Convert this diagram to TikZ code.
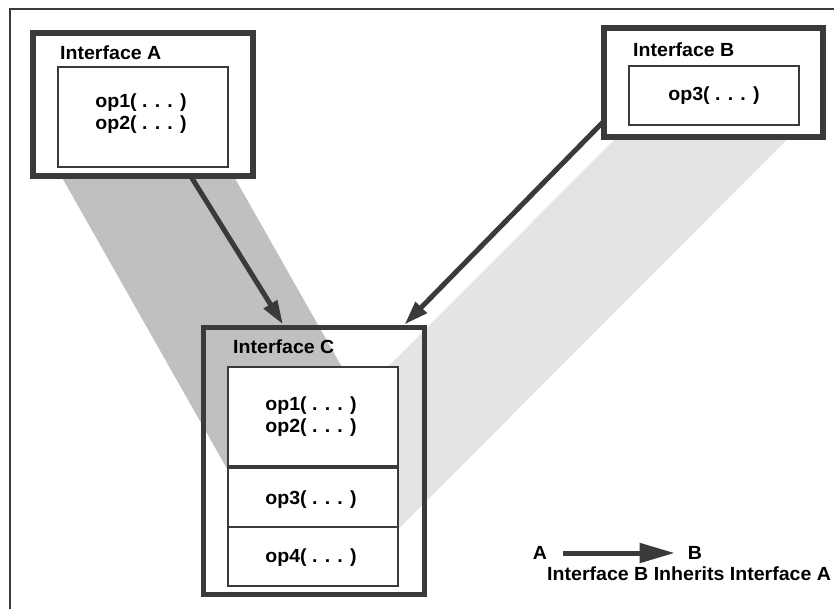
\documentclass[tikz,border=0pt]{standalone}
\usepackage{fontspec}
\setmainfont{Liberation Sans}[FakeStretch=1.03]
\usetikzlibrary{arrows.meta,calc}
\definecolor{ink}{HTML}{3A3A3A}
\definecolor{shadeA}{HTML}{C0C0C0}
\definecolor{shadeB}{HTML}{E4E4E4}
\pgfdeclarelayer{bands}
\pgfdeclarelayer{links}
\pgfsetlayers{bands,links,main}
\begin{document}
\begin{tikzpicture}[x=1pt,y=-1pt,
  every node/.style={font=\fontsize{19}{22}\selectfont\bfseries},
  outerbox/.style={draw=ink,line width=6pt,inner sep=0pt},
  innerbox/.style={draw=ink,line width=2.5pt,fill=white,inner sep=0pt},
  title/.style={anchor=base west,inner sep=0pt},
  optext/.style={align=center,inner sep=0pt},
  inherit/.style={draw=ink,line width=5pt,-{Triangle[length=24pt,width=15pt]}}]
\useasboundingbox (0,0) rectangle (834,608);
\clip (0,0) rectangle (834,608);

% frame around the whole figure
\draw[ink,line width=1.6pt] (10,700) -- (10,9) -- (900,9);

% Interface A
\node[outerbox,fill=white,minimum width=220pt,minimum height=143pt] (aout) at (143,104.5) {};
\node[innerbox,minimum width=170pt,minimum height=100pt] (ain) at (143,117) {};
\node[title] (atitle) at (60,59) {Interface A};
\node[optext] (aops) at (141,114) {op1( . . . )\\op2( . . . )};

% Interface B
\node[outerbox,fill=white,minimum width=219pt,minimum height=109pt] (bout) at (713.5,82.5) {};
\node[innerbox,minimum width=170pt,minimum height=59pt] (bin) at (714,95.5) {};
\node[title] (btitle) at (633,56) {Interface B};
\node[optext] (bops) at (714,96) {op3( . . . )};

% Interface C with its three sections
\node[outerbox,line width=5pt,minimum width=221pt,minimum height=267pt] (cout) at (313.5,460.5) {};
\node[innerbox,minimum width=170pt,minimum height=100pt] (cin1) at (313,417) {};
\node[innerbox,minimum width=170pt,minimum height=60pt] (cin2) at (313,497) {};
\node[innerbox,minimum width=170pt,minimum height=59pt] (cin3) at (313,556.5) {};
\draw[ink,line width=4.5pt] ($(cin1.south west)!.5!(cin2.north west)$) -- ($(cin1.south east)!.5!(cin2.north east)$);
\node[title] (ctitle) at (233,353) {Interface C};
\node[optext] (cops1) at (311,417) {op1( . . . )\\op2( . . . )};
\node[optext] (cops2) at (311,500) {op3( . . . )};
\node[optext] (cops3) at (311,558) {op4( . . . )};

% projections of inherited operations
\begin{pgfonlayer}{bands}
  \fill[shadeA] (ain.south west) -- (ain.south east) -- (cin1.south east) -- (cin1.south west) -- cycle;
  \fill[shadeB] (bin.south west) -- (bin.south east) -- (cin2.south east) -- (cin2.south west) -- cycle;
\end{pgfonlayer}

% inheritance arrows
\begin{pgfonlayer}{links}
  \draw[inherit] ([xshift=47pt,yshift=4pt]aout.south) -- ([xshift=-30.5pt]cout.north);
  \draw[inherit] ([xshift=4pt,yshift=20pt]bout.south west) -- ([xshift=-22pt]cout.north east);
\end{pgfonlayer}

% legend
\node[inner sep=0pt] (la) at (540,553) {A};
\node[inner sep=0pt] (lb) at (695,553) {B};
\draw[draw=ink,line width=5pt,-{Triangle[length=35pt,width=19pt]},shorten <=16pt,shorten >=13pt] (la) -- (lb);
\node[anchor=base west,inner sep=0pt] (legend) at (547,580) {Interface B Inherits Interface A};
\end{tikzpicture}
\end{document}
